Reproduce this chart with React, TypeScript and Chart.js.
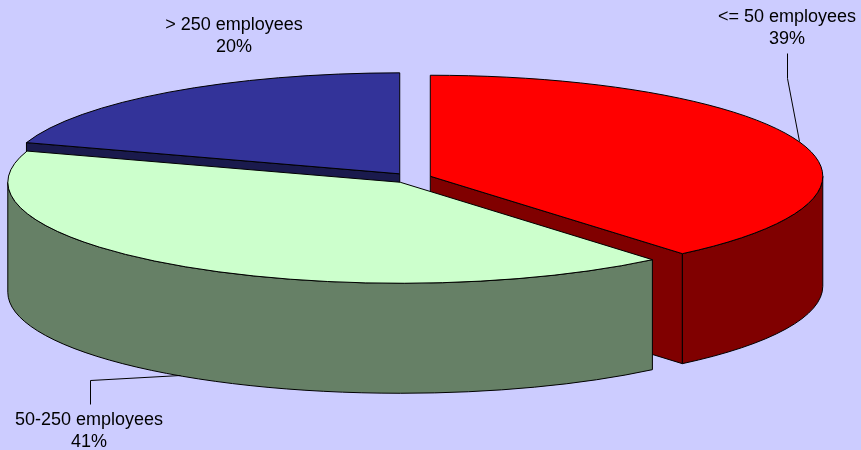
import React, { useEffect, useRef } from "react";
import { Chart, registerables } from "chart.js";

Chart.register(...registerables);

const categories = ["<= 50 employees", "50-250 employees", "> 250 employees"];
const shares = [38.9, 41.1, 20];
const percentLabels = ["39%", "41%", "20%"];
const topColors = ["#FF0000", "#CCFFCC", "#333399"];
const sideColors = ["#800000", "#668066", "#1A1A4D"];
const paintOrder = [2, 0, 1];

const BG = "#CCCCFF";
const CX = 411.5;
const CY = 178;
const RX = 392.5;
const RY = 101;
const DEPTH = 110;
const EXPLODE = 20;
const FONT = '18px "Liberation Sans", Arial, sans-serif';
const TEXT = "#000000";

const labelAnchors = [
  { x: 787, y: 17 },
  { x: 89, y: 420 },
  { x: 234, y: 25 },
];
const LINE_H = 22;
const leaders = [
  [[787, 53], [787, 78], [799, 141]],
  [[90, 404], [90, 380], [180, 375]],
];

const pie3d = {
  id: "pie3d",
  beforeDatasetsDraw(chart: any) {
    const ctx = chart.ctx;
    const arcs = chart.getDatasetMeta(0).data;
    const geometry = arcs.map((arc: any, i: number) => {
      const mid = (arc.startAngle + arc.endAngle) / 2;
      const off = chart.data.datasets[0].offset ?? EXPLODE;
      return {
        i,
        a1: arc.startAngle,
        a2: arc.endAngle,
        x: CX + Math.cos(mid) * off,
        y: CY + Math.sin(mid) * off * (RY / RX),
      };
    });
    ctx.save();
    ctx.lineWidth = 1;
    ctx.strokeStyle = "#000";
    ctx.lineJoin = "round";

    const rim = (g: any, a: number) => [g.x + RX * Math.cos(a), g.y + RY * Math.sin(a)];
    const paintCut = (g: any, a: number) => {
      const [px, py] = rim(g, a);
      ctx.beginPath();
      ctx.moveTo(g.x, g.y);
      ctx.lineTo(px, py);
      ctx.lineTo(px, py + DEPTH);
      ctx.lineTo(g.x, g.y + DEPTH);
      ctx.closePath();
      ctx.fillStyle = sideColors[g.i];
      ctx.fill();
      ctx.stroke();
    };

    for (const idx of paintOrder) {
      const g = geometry[idx];
      // cut faces that look towards the viewer
      if (Math.sin(g.a1 - Math.PI / 2) > 0.001) paintCut(g, g.a1);
      if (Math.sin(g.a2 + Math.PI / 2) > 0.001) paintCut(g, g.a2);
      // outer wall: the part of the rim in the front half of the ellipse
      const lo = Math.max(g.a1, 0);
      const hi = Math.min(g.a2, Math.PI);
      if (hi > lo) {
        ctx.beginPath();
        ctx.ellipse(g.x, g.y, RX, RY, 0, lo, hi);
        ctx.ellipse(g.x, g.y + DEPTH, RX, RY, 0, hi, lo, true);
        ctx.closePath();
        ctx.fillStyle = sideColors[g.i];
        ctx.fill();
        ctx.stroke();
      }
      // top face
      ctx.beginPath();
      ctx.moveTo(g.x, g.y);
      ctx.ellipse(g.x, g.y, RX, RY, 0, g.a1, g.a2);
      ctx.closePath();
      ctx.fillStyle = topColors[g.i];
      ctx.fill();
      ctx.stroke();
    }

    // leader lines
    for (const pts of leaders) {
      ctx.beginPath();
      pts.forEach(([x, y], k) => (k ? ctx.lineTo(x + 0.5, y + 0.5) : ctx.moveTo(x + 0.5, y + 0.5)));
      ctx.stroke();
    }

    // labels
    ctx.font = FONT;
    ctx.fillStyle = TEXT;
    ctx.textAlign = "center";
    ctx.textBaseline = "middle";
    categories.forEach((name, i) => {
      const p = labelAnchors[i];
      ctx.fillText(name, p.x, p.y);
      ctx.fillText(percentLabels[i], p.x, p.y + LINE_H);
    });
    ctx.restore();
    return false;
  },
};

export default function App() {
  const ref = useRef<HTMLCanvasElement>(null);
  useEffect(() => {
    document.body.style.margin = "0";
    document.body.style.background = BG;
    const chart = new Chart(ref.current as HTMLCanvasElement, {
      type: "pie",
      data: {
        labels: categories,
        datasets: [
          {
            data: shares,
            backgroundColor: topColors,
            borderColor: "#000000",
            borderWidth: 1,
            offset: EXPLODE,
          } as any,
        ],
      },
      options: {
        responsive: false,
        animation: false,
        plugins: { legend: { display: false }, tooltip: { enabled: false } },
      },
      plugins: [pie3d],
    } as any);
    return () => chart.destroy();
  }, []);
  return (
    <div style={{ position: "absolute", left: 0, top: 0, width: 861, height: 450, background: BG }}>
      <canvas ref={ref} width={861} height={450} style={{ display: "block" }} />
    </div>
  );
}
